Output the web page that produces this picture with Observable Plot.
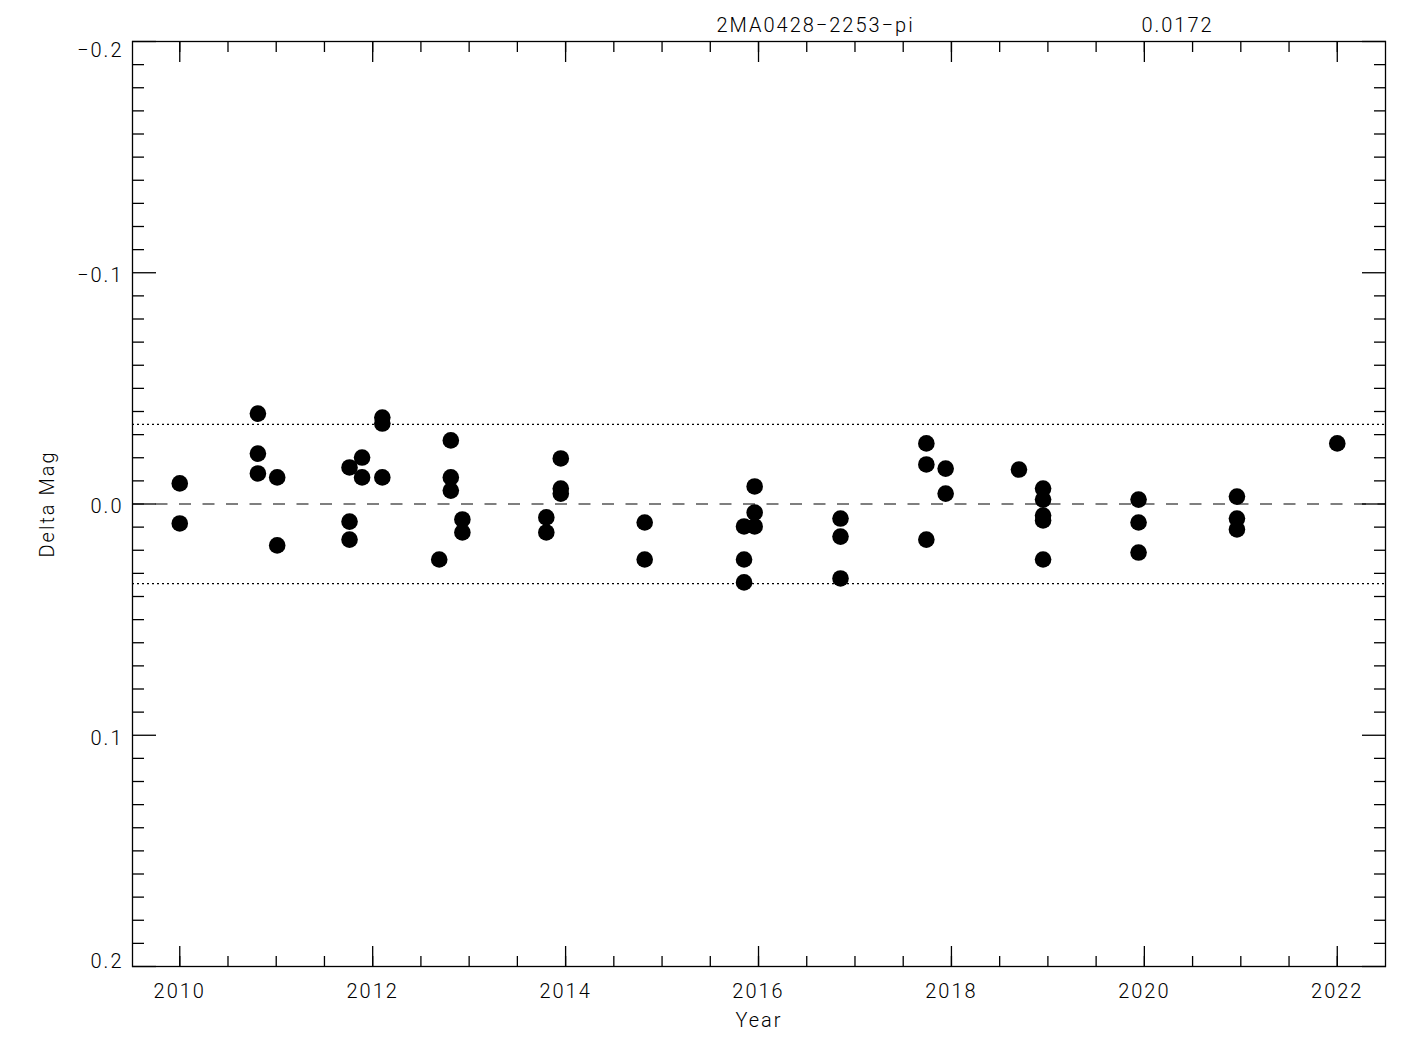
<!DOCTYPE html>
<html><head><meta charset="utf-8">
<script src="https://cdn.jsdelivr.net/npm/d3@7"></script>
<script src="https://cdn.jsdelivr.net/npm/@observablehq/plot@0.6"></script>
<style>
html,body{margin:0;padding:0;background:#fff;}
svg text{letter-spacing:2px;}
</style>
</head><body><div id="chart"></div>
<script>
// Observation epochs (decimal year) and magnitude residuals
const years = [
  2010.00, 2010.00,
  2010.81, 2010.81, 2010.81,
  2011.01, 2011.01,
  2011.76, 2011.76, 2011.76,
  2011.89, 2011.89,
  2012.10, 2012.10, 2012.10,
  2012.69,
  2012.81, 2012.81, 2012.81,
  2012.93, 2012.93,
  2013.80, 2013.80,
  2013.95, 2013.95, 2013.95,
  2014.82, 2014.82,
  2015.85, 2015.85, 2015.85,
  2015.96, 2015.96, 2015.96,
  2016.85, 2016.85, 2016.85,
  2017.74, 2017.74, 2017.74,
  2017.94, 2017.94,
  2018.70,
  2018.95, 2018.95, 2018.95, 2018.95, 2018.95,
  2019.94, 2019.94, 2019.94,
  2020.96, 2020.96, 2020.96,
  2022.00
];
const deltaMag = [
  -0.0089, 0.0084,
  -0.0391, -0.0218, -0.0132,
  -0.0115, 0.0179,
  -0.0158, 0.0076, 0.0154,
  -0.0201, -0.0115,
  -0.0374, -0.0348, -0.0115,
  0.0240,
  -0.0275, -0.0115, -0.0058,
  0.0067, 0.0123,
  0.0058, 0.0123,
  -0.0197, -0.0067, -0.0045,
  0.0080, 0.0240,
  0.0097, 0.0240, 0.0339,
  -0.0076, 0.0037, 0.0097,
  0.0063, 0.0141, 0.0322,
  -0.0262, -0.0171, 0.0154,
  -0.0153, -0.0045,
  -0.0149,
  -0.0067, -0.0019, 0.0050, 0.0071, 0.0240,
  -0.0019, 0.0080, 0.0210,
  -0.0032, 0.0063, 0.0110,
  -0.0262
];
const titleText = ["2MA0428\u22122253\u2212pi"];
const rmsText = ["0.0172"];
const bandLevels = [-0.0344, 0.0344];
const zeroLevel = [0];

const xDomain = [2009.51, 2022.5];
const yDomain = [-0.2, 0.2];
const xMajorTicks = [2010, 2012, 2014, 2016, 2018, 2020, 2022];
const xMinorTicks = [2010, 2010.5, 2011, 2011.5, 2012, 2012.5, 2013, 2013.5, 2014, 2014.5,
  2015, 2015.5, 2016, 2016.5, 2017, 2017.5, 2018, 2018.5, 2019, 2019.5,
  2020, 2020.5, 2021, 2021.5, 2022];
const yMajorTicks = [-0.2, -0.1, 0, 0.1, 0.2];
const yMidLabels = [-0.1, 0, 0.1];
const yTopLabel = [-0.2];
const yBottomLabel = [0.2];
const yMinorTicks = [-0.19, -0.18, -0.17, -0.16, -0.15, -0.14, -0.13, -0.12, -0.11,
  -0.09, -0.08, -0.07, -0.06, -0.05, -0.04, -0.03, -0.02, -0.01,
  0.01, 0.02, 0.03, 0.04, 0.05, 0.06, 0.07, 0.08, 0.09,
  0.11, 0.12, 0.13, 0.14, 0.15, 0.16, 0.17, 0.18, 0.19];

const data = years.map((x, i) => ({x, y: deltaMag[i]}));
const fmtY = d => (d < 0 ? "\u2212" : "") + Math.abs(d).toFixed(1);
const blank = () => "";

const plot = Plot.plot({
  width: 1425,
  height: 1050,
  marginLeft: 132,
  marginRight: 40,
  marginTop: 41,
  marginBottom: 84,
  style: {fontFamily: "Roboto, 'Liberation Sans', sans-serif", fontSize: "20px", fontWeight: 300, color: "#000", background: "#fff"},
  x: {domain: xDomain},
  y: {domain: yDomain, reverse: true},
  marks: [
    Plot.ruleY(zeroLevel, {stroke: "#000", strokeWidth: 1.2, strokeDasharray: "12,11.5"}),
    Plot.ruleY(bandLevels, {stroke: "#000", strokeWidth: 1.2, strokeDasharray: "2,3"}),
    Plot.dot(data, {x: "x", y: "y", r: 8.3, fill: "#000", stroke: null}),
    // ticks (inward)
    Plot.axisX(xMajorTicks, {anchor: "bottom", tickSize: -20, tickFormat: blank, label: null, strokeWidth: 1.3}),
    Plot.axisX(xMajorTicks, {anchor: "top", tickSize: -20, tickFormat: blank, label: null, strokeWidth: 1.3}),
    Plot.axisX(xMinorTicks, {anchor: "bottom", tickSize: -10, tickFormat: blank, label: null, strokeWidth: 1.3}),
    Plot.axisX(xMinorTicks, {anchor: "top", tickSize: -10, tickFormat: blank, label: null, strokeWidth: 1.3}),
    Plot.axisY(yMajorTicks, {anchor: "left", tickSize: -24, tickFormat: blank, label: null, strokeWidth: 1.3}),
    Plot.axisY(yMajorTicks, {anchor: "right", tickSize: -24, tickFormat: blank, label: null, strokeWidth: 1.3}),
    Plot.axisY(yMinorTicks, {anchor: "left", tickSize: -12, tickFormat: blank, label: null, strokeWidth: 1.3}),
    Plot.axisY(yMinorTicks, {anchor: "right", tickSize: -12, tickFormat: blank, label: null, strokeWidth: 1.3}),
    // labels
    Plot.axisX(xMajorTicks, {anchor: "bottom", tickSize: 0, tickPadding: 17, label: "Year", labelAnchor: "center", labelOffset: 60, labelArrow: "none", tickFormat: d => String(d)}),
    Plot.axisY(yMidLabels, {anchor: "left", tickSize: 0, tickPadding: 9, dy: 3, tickFormat: fmtY, label: "Delta Mag", labelAnchor: "center", labelOffset: 93, labelArrow: "none"}),
    Plot.axisY(yTopLabel, {anchor: "left", tickSize: 0, tickPadding: 9, dy: 9, tickFormat: fmtY, label: null}),
    Plot.axisY(yBottomLabel, {anchor: "left", tickSize: 0, tickPadding: 9, dy: -5, tickFormat: fmtY, label: null}),
    Plot.frame({stroke: "#000", strokeWidth: 1.3}),
    Plot.text(titleText, {frameAnchor: "top-left", dx: 683, dy: -16, text: d => d, fontSize: 20, textAnchor: "middle", lineAnchor: "middle", style: "letter-spacing:1px"}),
    Plot.text(rmsText, {frameAnchor: "top-left", dx: 1045, dy: -16, text: d => d, fontSize: 20, textAnchor: "middle", lineAnchor: "middle"})
  ]
});
document.getElementById("chart").appendChild(plot);
</script>
</body></html>
